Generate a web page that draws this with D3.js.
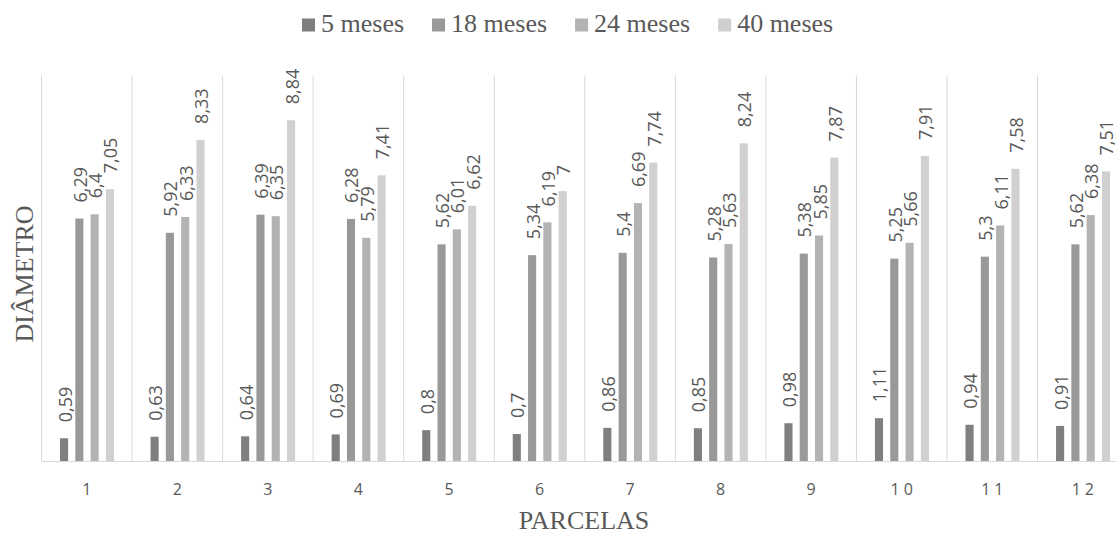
<!DOCTYPE html>
<html>
<head>
<meta charset="utf-8">
<script src="https://cdn.jsdelivr.net/npm/d3@7/dist/d3.min.js"></script>
<style>
  html, body { margin: 0; padding: 0; background: #fff; }
  svg { display: block; }
</style>
</head>
<body>
<svg id="chart" width="1116" height="535"></svg>
<script>
const categories = ["1","2","3","4","5","6","7","8","9","10","11","12"];
const seriesNames = ["5 meses","18 meses","24 meses","40 meses"];
const meses5  = [0.59, 0.63, 0.64, 0.69, 0.8, 0.7, 0.86, 0.85, 0.98, 1.11, 0.94, 0.91];
const meses18 = [6.29, 5.92, 6.39, 6.28, 5.62, 5.34, 5.4, 5.28, 5.38, 5.25, 5.3, 5.62];
const meses24 = [6.4, 6.33, 6.35, 5.79, 6.01, 6.19, 6.69, 5.63, 5.85, 5.66, 6.11, 6.38];
const meses40 = [7.05, 8.33, 8.84, 7.41, 6.62, 7, 7.74, 8.24, 7.87, 7.91, 7.58, 7.51];
const seriesValues = [meses5, meses18, meses24, meses40];
const colors = ["#7f7f7f", "#999999", "#b3b3b3", "#d0d0d0"];

const svg = d3.select("#chart");
const plotLeft = 41.5, groupW = 90.55;
const plotTop = 75.5, plotBottom = 461;

const x0 = d3.scaleBand().domain(categories).range([plotLeft, plotLeft + groupW * categories.length]).padding(0);
const x1 = d3.scaleBand().domain(seriesNames).range([18.5, 72.5]).paddingInner(0.47).paddingOuter(0);
const y = d3.scaleLinear().domain([0, 10]).range([plotBottom, plotTop]);

const fmt = v => String(v).replace(".", ",");
const serif = "'Liberation Serif', 'Times New Roman', serif";
const sans = "'Open Sans', sans-serif";
const textColor = "#595959";

// group separator lines
const seps = d3.range(categories.length + 1).map(i => plotLeft + i * groupW);
svg.append("g").selectAll("line").data(seps).join("line")
  .attr("x1", d => d).attr("x2", d => d)
  .attr("y1", y(10)).attr("y2", plotBottom)
  .attr("stroke", "#d9d9d9").attr("stroke-width", 1);

// bars
const groups = svg.append("g").selectAll("g").data(categories).join("g")
  .attr("transform", d => `translate(${x0(d)},0)`);

groups.selectAll("rect")
  .data((c, i) => seriesNames.map((s, j) => ({ s, j, v: seriesValues[j][i] })))
  .join("rect")
  .attr("x", d => x1(d.s))
  .attr("width", x1.bandwidth())
  .attr("y", d => y(d.v))
  .attr("height", d => plotBottom - y(d.v))
  .attr("fill", d => colors[d.j]);

groups.selectAll("text")
  .data((c, i) => seriesNames.map((s, j) => ({ s, j, v: seriesValues[j][i] })))
  .join("text")
  .attr("transform", d => `translate(${x1(d.s) + x1.bandwidth() / 2 + 1},${y(d.v) - 16}) rotate(-90)`)
  .attr("dy", "0.36em")
  .attr("text-anchor", "start")
  .attr("font-family", sans)
  .attr("font-size", 18)
  .attr("fill", textColor)
  .text(d => fmt(d.v));

// x axis
const xAxis = svg.append("g").attr("transform", `translate(0,${plotBottom})`)
  .call(d3.axisBottom(x0).tickSize(0).tickPadding(0));
xAxis.select(".domain").attr("stroke", "#d9d9d9");
xAxis.selectAll("text")
  .attr("y", 34)
  .attr("dy", 0)
  .attr("dx", d => d.length > 1 ? 2 : 0)
  .attr("font-family", sans)
  .attr("font-size", 16)
  .attr("letter-spacing", d => d.length > 1 ? "4px" : "0px")
  .attr("fill", textColor);

// axis titles
svg.append("text")
  .attr("x", 584).attr("y", 529)
  .attr("text-anchor", "middle")
  .attr("font-family", serif)
  .attr("font-size", 26)
  .attr("fill", textColor)
  .text("PARCELAS");

svg.append("text")
  .attr("transform", `translate(33,274) rotate(-90)`)
  .attr("text-anchor", "middle")
  .attr("font-family", serif)
  .attr("font-size", 26)
  .attr("fill", textColor)
  .text("DIÂMETRO");

// legend
const legend = svg.append("g");
let lx = 302;
seriesNames.forEach((name, i) => {
  legend.append("rect")
    .attr("x", lx).attr("y", 18.5).attr("width", 13).attr("height", 13)
    .attr("fill", colors[i]);
  const t = legend.append("text")
    .attr("x", lx + 19).attr("y", 32)
    .attr("font-family", serif)
    .attr("font-size", 26)
    .attr("fill", textColor)
    .text(name);
  lx += 19 + t.node().getComputedTextLength() + 28;
});
</script>
</body>
</html>
